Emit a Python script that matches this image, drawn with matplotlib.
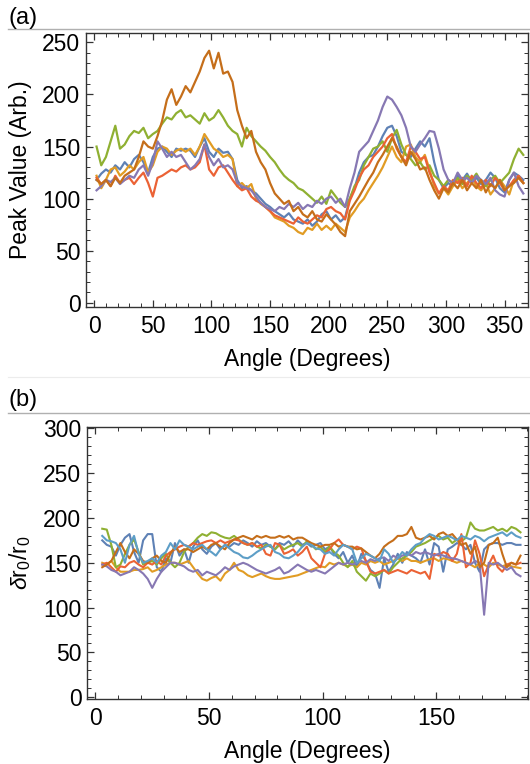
import numpy as np
import matplotlib
matplotlib.use("Agg")
import matplotlib.pyplot as plt
from matplotlib.ticker import MultipleLocator
from matplotlib.lines import Line2D

plt.rcParams['font.family'] = ['Liberation Sans', 'DejaVu Sans']
plt.rcParams['mathtext.fontset'] = 'custom'
plt.rcParams['mathtext.rm'] = 'Liberation Sans'
plt.rcParams['mathtext.it'] = 'Liberation Sans:italic'

# ---------------- Panel (a) data ----------------
angle_a = np.arange(2, 367, 4)

peak_green = [150, 132, 140, 155, 170, 148, 152, 160, 165, 163,
              168, 158, 162, 165, 172, 178, 176, 182, 185, 178,
              180, 176, 172, 182, 175, 178, 185, 178, 170, 165,
              162, 150, 168, 160, 155, 150, 146, 140, 135, 128,
              122, 118, 115, 110, 108, 104, 100, 96, 102, 95,
              108, 102, 96, 92, 100, 112, 118, 132, 140, 148,
              150, 155, 145, 158, 166, 152, 142, 138, 132, 135,
              128, 132, 122, 118, 112, 118, 115, 120, 114, 122,
              118, 124, 116, 112, 118, 122, 115, 120, 125, 138,
              148, 142]
peak_brown = [118, 114, 118, 112, 120, 115, 122, 125, 128, 140,
              155, 150, 148, 160, 175, 195, 205, 190, 198, 208,
              202, 212, 222, 235, 242, 225, 240, 220, 222, 212,
              185, 170, 158, 165, 145, 135, 128, 115, 105, 100,
              95, 98, 88, 92, 85, 82, 88, 80, 78, 85,
              80, 75, 68, 64, 88, 95, 102, 110, 118, 125,
              135, 142, 150, 158, 150, 140, 132, 145, 138, 128,
              130, 118, 108, 100, 110, 106, 115, 110, 118, 108,
              115, 110, 118, 106, 114, 110, 118, 108, 112, 115,
              120, 115]
peak_blue = [118, 124, 128, 125, 132, 128, 135, 130, 138, 142,
             135, 125, 140, 148, 150, 145, 140, 148, 146, 148,
             146, 140, 150, 158, 145, 140, 148, 144, 145, 138,
             118, 110, 112, 108, 105, 100, 95, 92, 88, 85,
             82, 86, 80, 78, 76, 80, 74, 78, 85, 88,
             80, 84, 78, 82, 100, 110, 125, 135, 140, 142,
             150, 160, 168, 170, 160, 145, 142, 140, 148, 155,
             150, 158, 135, 118, 110, 115, 112, 122, 118, 124,
             116, 120, 114, 118, 125, 120, 110, 106, 118, 125,
             122, 118]
peak_orange = [122, 110, 118, 128, 130, 122, 126, 132, 128, 135,
               140, 125, 132, 145, 150, 148, 142, 146, 148, 145,
               148, 142, 150, 162, 155, 148, 145, 140, 142, 138,
               112, 115, 110, 114, 100, 95, 92, 88, 82, 80,
               78, 74, 72, 68, 66, 72, 70, 76, 70, 74,
               70, 76, 72, 68, 82, 88, 95, 100, 108, 115,
               122, 130, 140, 150, 140, 135, 150, 152, 140, 135,
               142, 128, 112, 105, 110, 104, 112, 118, 110, 115,
               120, 112, 108, 115, 104, 110, 118, 112, 104, 118,
               120, 115]
peak_red = [120, 114, 118, 112, 122, 115, 118, 120, 114, 120,
            125, 115, 102, 120, 122, 125, 128, 126, 130, 132,
            128, 130, 135, 152, 128, 122, 130, 132, 125, 118,
            112, 108, 110, 102, 98, 96, 92, 88, 84, 82,
            80, 78, 76, 82, 78, 76, 80, 84, 82, 90,
            92, 88, 86, 80, 98, 108, 120, 128, 132, 140,
            145, 150, 158, 162, 148, 140, 135, 150, 145, 138,
            140, 125, 115, 105, 112, 108, 118, 115, 120, 112,
            122, 115, 110, 118, 112, 120, 115, 108, 112, 118,
            122, 115]
peak_purple = [108, 112, 118, 116, 120, 114, 118, 122, 120, 128,
               132, 122, 135, 155, 148, 140, 145, 140, 142, 135,
               128, 132, 138, 152, 140, 132, 138, 130, 132, 128,
               115, 112, 110, 108, 102, 96, 92, 90, 88, 92,
               90, 95, 92, 96, 90, 94, 92, 98, 95, 100,
               102, 96, 100, 92, 110, 125, 145, 150, 155, 165,
               175, 188, 198, 195, 188, 180, 168, 150, 145, 152,
               158, 165, 164, 148, 128, 118, 115, 125, 118, 120,
               115, 122, 118, 114, 120, 108, 104, 102, 118, 125,
               112, 105]

# ---------------- Panel (b) data ----------------
angle_b = np.arange(3, 188, 2)

dr_green = [188, 187, 170, 145, 148, 160, 170, 176, 162, 148,
            150, 152, 148, 155, 160, 150, 145, 150, 162, 168,
            172, 178, 182, 180, 184, 183, 180, 178, 177, 180,
            176, 172, 170, 172, 168, 166, 170, 168, 165, 170,
            165, 168, 170, 172, 168, 174, 170, 165, 168, 162,
            168, 162, 158, 150, 145, 152, 140, 135, 130, 138,
            135, 138, 142, 138, 145, 150, 155, 158, 162, 168,
            170, 172, 175, 178, 180, 176, 178, 172, 176, 174,
            178, 195, 188, 186, 186, 188, 190, 186, 188, 185,
            190, 188, 184]
dr_blue = [175, 170, 168, 158, 170, 178, 182, 162, 150, 175,
           182, 182, 145, 140, 155, 150, 172, 158, 165, 150,
           168, 175, 165, 160, 168, 172, 165, 170, 168, 172,
           170, 175, 172, 168, 174, 170, 172, 168, 165, 172,
           170, 174, 168, 175, 170, 172, 168, 170, 172, 165,
           168, 160, 155, 162, 150, 158, 145, 160, 152, 142,
           138, 122, 155, 140, 148, 160, 150, 162, 158, 155,
           150, 165, 148, 172, 168, 140, 165, 168, 172, 170,
           165, 170, 150, 140, 165, 170, 172, 172, 170, 172,
           172, 170, 170]
dr_lightblue = [180, 175, 174, 172, 165, 150, 170, 180, 160, 150,
                152, 155, 150, 158, 162, 172, 165, 175, 170, 168,
                165, 168, 170, 165, 162, 158, 165, 170, 166, 162,
                160, 156, 155, 158, 162, 165, 168, 170, 162, 160,
                156, 155, 158, 162, 168, 172, 170, 166, 165, 160,
                162, 158, 165, 170, 168, 165, 150, 155, 160, 158,
                155, 152, 165, 160, 150, 155, 162, 158, 165, 170,
                172, 178, 182, 180, 176, 178, 180, 178, 175, 180,
                178, 176, 180, 178, 174, 178, 180, 182, 184, 180,
                184, 180, 178]
dr_red = [148, 150, 145, 140, 146, 145, 150, 152, 148, 145,
          150, 148, 152, 148, 158, 162, 165, 168, 170, 168,
          172, 170, 172, 174, 175, 172, 175, 172, 174, 176,
          175, 172, 170, 172, 168, 170, 160, 158, 172, 170,
          160, 162, 165, 158, 162, 168, 155, 150, 145, 160,
          165, 172, 176, 170, 168, 165, 168, 166, 152, 140,
          138, 140, 142, 138, 140, 142, 140, 138, 142, 140,
          138, 140, 132, 160, 158, 162, 160, 152, 160, 182,
          145, 150, 175, 160, 135, 148, 158, 145, 140, 148,
          150, 148, 150]
dr_brown = [145, 148, 152, 162, 172, 162, 155, 165, 160, 152,
            150, 155, 158, 152, 150, 160, 168, 162, 165, 165,
            162, 165, 168, 165, 170, 172, 168, 165, 172, 176,
            178, 180, 178, 176, 180, 178, 180, 178, 178, 180,
            178, 180, 176, 178, 178, 175, 172, 170, 168, 170,
            170, 172, 168, 170, 168, 168, 165, 166, 162, 158,
            155, 160, 168, 172, 175, 180, 180, 182, 190, 178,
            176, 178, 180, 176, 182, 184, 180, 182, 176, 170,
            172, 160, 168, 145, 150, 170, 172, 178, 160, 145,
            150, 148, 158]
dr_orange = [150, 148, 152, 145, 140, 140, 140, 142, 142, 143,
             145, 140, 142, 145, 148, 150, 150, 148, 150, 152,
             145, 138, 132, 130, 133, 135, 130, 138, 142, 150,
             142, 140, 136, 134, 136, 138, 135, 133, 132, 132,
             133, 134, 135, 136, 138, 140, 142, 144, 146, 145,
             150, 148, 150, 148, 146, 148, 145, 150, 148, 152,
             150, 152, 148, 150, 152, 155, 152, 155, 152, 152,
             150, 152, 154, 155, 152, 155, 154, 152, 150, 152,
             150, 148, 145, 150, 148, 145, 150, 148, 146, 148,
             146, 145, 144]
dr_purple = [148, 146, 142, 140, 136, 138, 140, 145, 142, 138,
             132, 122, 132, 140, 145, 150, 150, 148, 146, 142,
             140, 142, 136, 140, 138, 136, 140, 145, 142, 146,
             148, 150, 148, 145, 142, 140, 138, 140, 142, 145,
             138, 140, 144, 148, 145, 142, 140, 142, 140, 138,
             142, 146, 150, 148, 150, 148, 150, 152, 150, 154,
             152, 155, 156, 152, 158, 155, 158, 160, 158, 162,
             160, 162, 160, 158, 160, 158, 156, 155, 154, 152,
             150, 148, 152, 150, 92, 150, 148, 150, 146, 142,
             145, 138, 135]

C_BLUE = '#5E81B5'
C_ORANGE = '#E19C24'
C_GREEN = '#8FB032'
C_RED = '#EB6235'
C_PURPLE = '#8778B3'
C_BROWN = '#C56E1A'
C_LBLUE = '#5D9EC7'

FS = 16.5

fig = plt.figure(figsize=(5.30, 7.64), dpi=100)

def style_axes(ax):
    for s in ax.spines.values():
        s.set_color('#333333')
        s.set_linewidth(1.0)
    ax.tick_params(which='both', direction='in', top=True, right=True,
                   color='#333333', labelsize=FS)
    ax.tick_params(axis='x', which='both', pad=6)
    ax.tick_params(axis='y', which='both', pad=4)
    ax.tick_params(which='major', length=5, width=0.9)
    ax.tick_params(which='minor', length=3, width=0.7)

# Panel (a)
ax1 = fig.add_axes([86/530, 1-307/764, 442/530, 274/764])
series_a = [(peak_blue, C_BLUE), (peak_orange, C_ORANGE), (peak_green, C_GREEN),
            (peak_red, C_RED), (peak_purple, C_PURPLE), (peak_brown, C_BROWN)]
for vals, col in series_a:
    ax1.plot(angle_a, vals, color=col, lw=1.6)
ax1.set_xlim(-7, 370)
ax1.set_ylim(-4, 259)
ax1.xaxis.set_major_locator(MultipleLocator(50))
ax1.xaxis.set_minor_locator(MultipleLocator(10))
ax1.yaxis.set_major_locator(MultipleLocator(50))
ax1.yaxis.set_minor_locator(MultipleLocator(10))
style_axes(ax1)
ax1.set_xlabel('Angle (Degrees)', fontsize=FS, labelpad=7)
ax1.set_ylabel('Peak Value (Arb.)', fontsize=FS)
ax1.yaxis.set_label_coords(-0.122, 0.5)

# Panel (b)
ax2 = fig.add_axes([87/530, 1-699/764, 441/530, 272/764])
series_b = [(dr_blue, C_BLUE), (dr_orange, C_ORANGE), (dr_green, C_GREEN),
            (dr_red, C_RED), (dr_purple, C_PURPLE), (dr_brown, C_BROWN),
            (dr_lightblue, C_LBLUE)]
for vals, col in series_b:
    ax2.plot(angle_b, vals, color=col, lw=1.5)
ax2.set_xlim(-3.7, 190.3)
ax2.set_ylim(-2, 301.5)
ax2.xaxis.set_major_locator(MultipleLocator(50))
ax2.xaxis.set_minor_locator(MultipleLocator(10))
ax2.yaxis.set_major_locator(MultipleLocator(50))
ax2.yaxis.set_minor_locator(MultipleLocator(10))
style_axes(ax2)
ax2.set_xlabel('Angle (Degrees)', fontsize=FS, labelpad=7)
ax2.set_ylabel(r'$\mathit{\delta}\mathrm{r}_0/\mathrm{r}_0$', fontsize=FS)
ax2.yaxis.set_label_coords(-0.122, 0.5)

# Panel labels and separator lines
fig.text(9/530, 1-18/764, '(a)', fontsize=17, va='center', ha='left')
fig.text(9/530, 1-400/764, '(b)', fontsize=17, va='center', ha='left')
fig.add_artist(Line2D([8/530, 1], [1-29/764, 1-29/764], color='#b0b0b0', lw=1.0))
fig.add_artist(Line2D([8/530, 1], [1-413/764, 1-413/764], color='#b0b0b0', lw=1.0))
fig.add_artist(Line2D([8/530, 1], [1-377/764, 1-377/764], color='#ececec', lw=0.8))

fig.savefig('out.png', dpi=100)
